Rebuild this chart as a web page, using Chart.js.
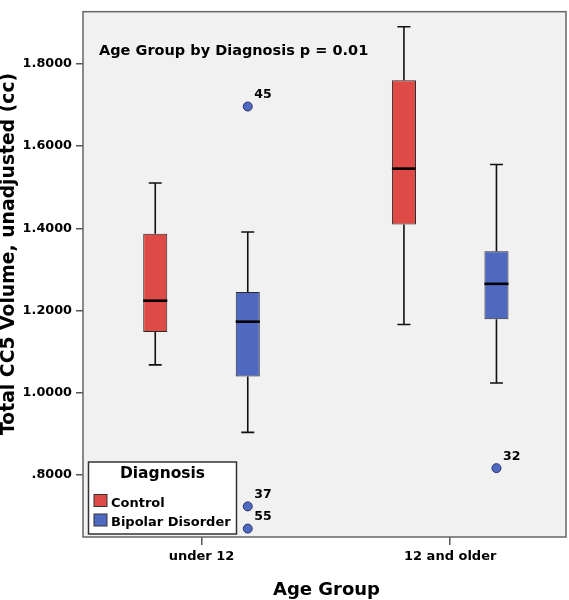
<!DOCTYPE html>
<html><head><meta charset="utf-8">
<script src="https://cdn.jsdelivr.net/npm/chart.js@4.4.1/dist/chart.umd.min.js"></script>
<style>html,body{margin:0;padding:0;background:#fff;}canvas{display:block;}</style>
</head><body>
<canvas id="c" width="569" height="600"></canvas>
<script>
const categories = ['under 12', '12 and older'];
const seriesNames = ['Control', 'Bipolar Disorder'];
const controlLow = [1.068, 1.166];
const controlQ1 = [1.148, 1.409];
const controlMedian = [1.224, 1.545];
const controlQ3 = [1.387, 1.760];
const controlHigh = [1.510, 1.890];
const bipolarLow = [0.904, 1.024];
const bipolarQ1 = [1.040, 1.179];
const bipolarMedian = [1.173, 1.265];
const bipolarQ3 = [1.245, 1.344];
const bipolarHigh = [1.391, 1.555];
const outlierCategory = [0, 0, 0, 1];
const outlierValue = [1.696, 0.724, 0.670, 0.817];
const outlierCase = ['45', '37', '55', '32'];
const yTickValues = [0.8, 1.0, 1.2, 1.4, 1.6, 1.8];
const yTickLabels = ['.8000', '1.0000', '1.2000', '1.4000', '1.6000', '1.8000'];
const annotationText = 'Age Group by Diagnosis p = 0.01';
const xTitle = 'Age Group';
const yTitle = 'Total CC5 Volume, unadjusted (cc)';
const legendTitle = 'Diagnosis';

const RED = '#de4a45';
const BLUE = '#4f69c0';
const FONT = 'DejaVu Sans';

function makeDataset(name, q1, q3, low, med, high, color) {
  return {
    label: name,
    data: categories.map((c, i) => ({ x: i + 1, y: [q1[i], q3[i]] })),
    backgroundColor: color,
    borderColor: '#2a2a2a',
    borderWidth: 1,
    borderSkipped: false,
    whiskerLow: low, median: med, whiskerHigh: high
  };
}

const boxPlugin = {
  id: 'boxExtras',
  beforeDatasetsDraw(chart) {
    const { ctx, chartArea: a } = chart;
    ctx.save();
    ctx.fillStyle = '#f1f1f1';
    ctx.fillRect(a.left, a.top, a.right - a.left, a.bottom - a.top);
    ctx.restore();
  },
  afterDatasetsDraw(chart) {
    const { ctx, chartArea: a } = chart;
    const ys = chart.scales.y;
    ctx.save();
    chart.data.datasets.forEach((ds, di) => {
      const meta = chart.getDatasetMeta(di);
      meta.data.forEach((el, i) => {
        const x = el.x, half = el.width / 2, cap = 6.5;
        const yLow = ys.getPixelForValue(ds.whiskerLow[i]);
        const yHigh = ys.getPixelForValue(ds.whiskerHigh[i]);
        const yQ1 = ys.getPixelForValue(ds.data[i].y[0]);
        const yQ3 = ys.getPixelForValue(ds.data[i].y[1]);
        const yMed = ys.getPixelForValue(ds.median[i]);
        ctx.strokeStyle = '#111';
        ctx.lineWidth = 1.6;
        ctx.beginPath();
        ctx.moveTo(x, yQ3); ctx.lineTo(x, yHigh);
        ctx.moveTo(x - cap, yHigh); ctx.lineTo(x + cap, yHigh);
        ctx.moveTo(x, yQ1); ctx.lineTo(x, yLow);
        ctx.moveTo(x - cap, yLow); ctx.lineTo(x + cap, yLow);
        ctx.stroke();
        ctx.strokeStyle = '#000';
        ctx.lineWidth = 2.6;
        ctx.beginPath();
        ctx.moveTo(x - half, yMed); ctx.lineTo(x + half, yMed);
        ctx.stroke();
      });
    });
    // outliers (Bipolar Disorder series)
    const bmeta = chart.getDatasetMeta(1);
    outlierValue.forEach((v, k) => {
      const el = bmeta.data[outlierCategory[k]];
      const x = el.x, y = ys.getPixelForValue(v);
      ctx.beginPath();
      ctx.arc(x, y, 4.5, 0, Math.PI * 2);
      ctx.fillStyle = BLUE;
      ctx.fill();
      ctx.strokeStyle = '#27346e';
      ctx.lineWidth = 1;
      ctx.stroke();
      ctx.fillStyle = '#000';
      ctx.font = 'bold 12.5px "' + FONT + '"';
      ctx.textAlign = 'left';
      ctx.textBaseline = 'alphabetic';
      ctx.fillText(outlierCase[k], x + 6.5, y - 8.5);
    });
    // annotation
    ctx.fillStyle = '#000';
    ctx.font = 'bold 14.5px "' + FONT + '"';
    ctx.textAlign = 'left';
    ctx.fillText(annotationText, a.left + 16, a.top + 43);
    // legend
    const lx = a.left + 5.5, ly = a.bottom - 75, lw = 148, lh = 72;
    ctx.fillStyle = '#fff';
    ctx.fillRect(lx, ly, lw, lh);
    ctx.strokeStyle = '#333';
    ctx.lineWidth = 1.5;
    ctx.strokeRect(lx, ly, lw, lh);
    ctx.fillStyle = '#000';
    ctx.font = 'bold 15.5px "' + FONT + '"';
    ctx.textAlign = 'center';
    ctx.fillText(legendTitle, lx + lw / 2, ly + 15.5);
    const colors = [RED, BLUE];
    seriesNames.forEach((n, k) => {
      const sy = ly + 32.5 + k * 19.5;
      ctx.fillStyle = colors[k];
      ctx.fillRect(lx + 5.5, sy, 13, 12);
      ctx.strokeStyle = '#333';
      ctx.lineWidth = 1;
      ctx.strokeRect(lx + 5.5, sy, 13, 12);
      ctx.fillStyle = '#000';
      ctx.font = 'bold 13px "' + FONT + '"';
      ctx.textAlign = 'left';
      ctx.fillText(n, lx + 22.5, sy + 12);
    });
    // frame
    ctx.strokeStyle = '#666';
    ctx.lineWidth = 1.5;
    ctx.strokeRect(a.left, a.top, a.right - a.left, a.bottom - a.top);
    // axis titles
    ctx.fillStyle = '#000';
    ctx.font = 'bold 18px "' + FONT + '"';
    ctx.textAlign = 'center';
    ctx.fillText(xTitle, (a.left + a.right) / 2 + 2, 595);
    ctx.save();
    ctx.translate(14, 435);
    ctx.rotate(-Math.PI / 2);
    ctx.textAlign = 'left';
    ctx.font = 'bold 18.8px "' + FONT + '"';
    ctx.fillText(yTitle, 0, 0);
    ctx.restore();
    ctx.restore();
  }
};

new Chart(document.getElementById('c'), {
  type: 'bar',
  data: {
    datasets: [
      makeDataset(seriesNames[0], controlQ1, controlQ3, controlLow, controlMedian, controlHigh, RED),
      makeDataset(seriesNames[1], bipolarQ1, bipolarQ3, bipolarLow, bipolarMedian, bipolarHigh, BLUE)
    ]
  },
  options: {
    responsive: false,
    devicePixelRatio: 1,
    animation: false,
    categoryPercentage: 0.744,
    barPercentage: 0.26,
    layout: { padding: { top: 2, right: 3, left: 0, bottom: 0 } },
    plugins: { legend: { display: false }, tooltip: { enabled: false }, title: { display: false } },
    scales: {
      x: {
        type: 'linear',
        min: 0.5235,
        max: 2.4656,
        offset: false,
        afterBuildTicks: s => { s.ticks = categories.map((c, i) => ({ value: i + 1 })); },
        afterFit: s => { s.height = 63; },
        ticks: {
          callback: v => categories[Math.round(v) - 1],
          color: '#000',
          font: { family: FONT, weight: 'bold', size: 13 },
          padding: 4,
          maxRotation: 0,
          autoSkip: false
        },
        grid: { offset: false, drawOnChartArea: false, drawTicks: true, tickLength: 8, color: '#555', lineWidth: 1.5 },
        border: { display: false }
      },
      y: {
        type: 'linear',
        min: 0.6496,
        max: 1.9265,
        afterBuildTicks: s => { s.ticks = yTickValues.map(v => ({ value: v })); },
        afterFit: s => { s.width = 83; },
        ticks: {
          callback: (v) => { const k = yTickValues.findIndex(t => Math.abs(t - v) < 1e-6); return k >= 0 ? yTickLabels[k] : ''; },
          color: '#000',
          font: { family: FONT, weight: 'bold', size: 12.8 },
          padding: 4,
          autoSkip: false
        },
        grid: { drawOnChartArea: false, drawTicks: true, tickLength: 7, color: '#555', lineWidth: 1.5 },
        border: { display: false }
      }
    }
  },
  plugins: [boxPlugin]
});
</script>
</body></html>
